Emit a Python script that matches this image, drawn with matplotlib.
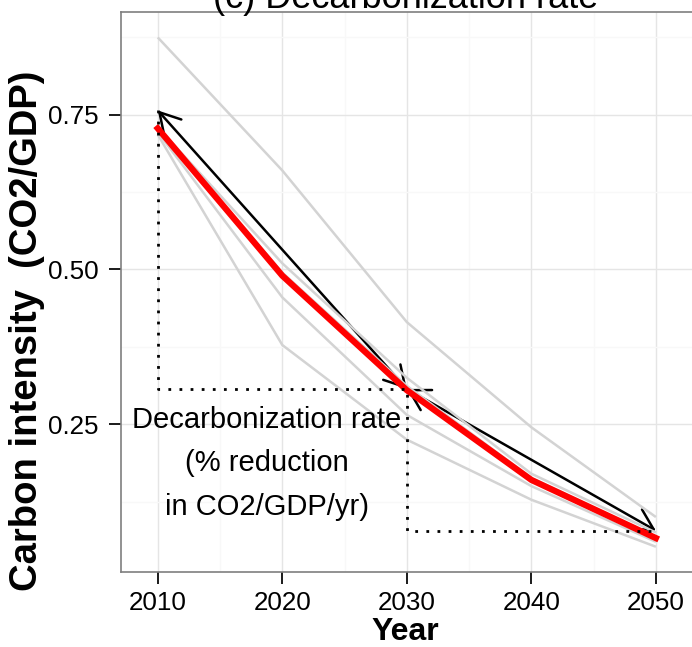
import numpy as np
import matplotlib.pyplot as plt
from matplotlib.patches import FancyArrowPatch

plt.rcParams['font.family'] = ['Liberation Sans', 'DejaVu Sans']

# data
years = [2010, 2020, 2030, 2040, 2050]
gray1 = [0.875, 0.660, 0.415, 0.245, 0.100]
gray2 = [0.730, 0.510, 0.325, 0.170, 0.075]
gray3 = [0.722, 0.455, 0.265, 0.150, 0.060]
gray4 = [0.718, 0.378, 0.225, 0.128, 0.052]
gray5 = [0.728, 0.495, 0.312, 0.163, 0.068]
red_line = [0.728, 0.490, 0.305, 0.160, 0.066]

arrow_years = [2010, 2030, 2050]
arrow_vals = [0.757, 0.307, 0.078]

xticks = [2010, 2020, 2030, 2040, 2050]
yticks = [0.25, 0.50, 0.75]
ytick_labels = ['0.25', '0.50', '0.75']

fig = plt.figure(figsize=(6.92, 6.47), dpi=100)
ax = fig.add_axes([121/692, 75/647, 1 - 121/692, 560/647])

ax.set_xlim(2007.05, 2052.9)
ax.set_ylim(0.0112, 0.916)

# grid
ax.set_xticks(xticks)
ax.set_xticks([2015, 2025, 2035, 2045], minor=True)
ax.set_yticks(yticks)
ax.set_yticklabels(ytick_labels)
ax.set_yticks([0.125, 0.375, 0.625, 0.875], minor=True)
ax.grid(which='major', color='#e5e5e5', lw=1.0)
ax.grid(which='minor', color='#f8f8f8', lw=1.0)
ax.set_axisbelow(True)

for s in ['top', 'left', 'bottom']:
    ax.spines[s].set_color('#7f7f7f')
    ax.spines[s].set_linewidth(1.2)
ax.spines['right'].set_visible(False)

ax.tick_params(which='major', length=8.4, width=1.4, color='#1a1a1a',
               labelsize=18.7, pad=5)
ax.tick_params(which='minor', length=0)
ax.tick_params(axis='y', pad=8)

for g in [gray1, gray2, gray3, gray4, gray5]:
    ax.plot(years, g, color='#d3d3d3', lw=1.8, solid_capstyle='butt')

ax.plot(years, red_line, color='#ff0000', lw=4.5, solid_joinstyle='round')

# dotted guide
dx = [arrow_years[0], arrow_years[0], arrow_years[1], arrow_years[1], arrow_years[2]]
dy = [arrow_vals[0], arrow_vals[1], arrow_vals[1], arrow_vals[2], arrow_vals[2]]
ax.plot(dx, dy, color='black', lw=2.0, dashes=(1, 3), dash_capstyle='butt')

for i in range(2):
    arr = FancyArrowPatch((arrow_years[i], arrow_vals[i]),
                          (arrow_years[i + 1], arrow_vals[i + 1]),
                          arrowstyle='<->,head_length=14.4,head_width=8.3',
                          mutation_scale=1, lw=1.8, color='black',
                          shrinkA=0, shrinkB=0)
    ax.add_patch(arr)

ax.text(2018.75, 0.187, 'Decarbonization rate\n(% reduction\nin CO2/GDP/yr)',
        ha='center', va='center', multialignment='center',
        fontsize=21, linespacing=1.7)

fig.text(406/692, 1 - 8/647, '(c) Decarbonization rate', ha='center',
         va='baseline', fontsize=26)
fig.text(405/692, 7/647, 'Year', ha='center', va='baseline',
         fontsize=23, fontweight='bold')
fig.text(27/692, (647 - 331)/647, 'Carbon intensity  (CO2/GDP)', rotation=90,
         ha='center', va='center', fontsize=27.5, fontweight='bold')

fig.savefig('out.png', dpi=100)
